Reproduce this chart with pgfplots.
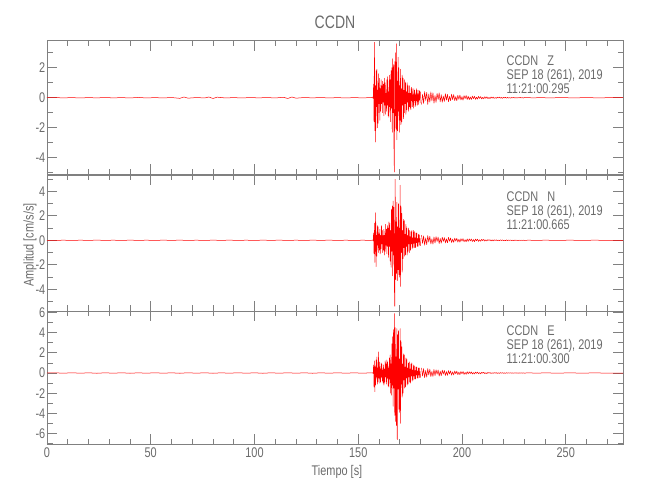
\documentclass[border=0pt]{standalone}
\usepackage{pgfplots}
\pgfplotsset{compat=1.18}
\usepackage{fontspec}
\setmainfont{Liberation Sans}[FakeStretch=0.78]
\definecolor{axgray}{rgb}{0.50,0.50,0.50}
\definecolor{textgray}{rgb}{0.42,0.42,0.42}
\pgfplotsset{
  seis/.style={
    scale only axis, anchor=south west, width=576pt,
    xmin=0, xmax=277.6,
    xtick distance=50, minor x tick num=4,
    ytick distance=2, minor y tick num=1,
    tick align=inside, major tick length=10pt, minor tick length=5.5pt,
    axis line style={axgray, line width=0.8pt},
    every tick/.style={axgray, line width=0.8pt},
    tick label style={font=\fontsize{14}{14}\selectfont, text=textgray},
    /pgf/number format/assume math mode=true,
    yticklabel style={inner xsep=1.5pt},
    xticklabel style={inner ysep=3pt},
  },
  trace/.style={red, line width=0.5pt, line join=round},
}
\begin{document}
\begin{tikzpicture}
\useasboundingbox (0pt,0pt) rectangle (650pt,500pt);

% ---------------- Panel 1 : Z ----------------
\begin{axis}[seis, at={(47pt,325.7pt)}, height=133.6pt, ymin=-5.1, ymax=3.8, xticklabels={}]
\addplot[trace] coordinates {(0,0) (4,0.01) (8,-0.01) (12,0.01) (16,-0.015) (20,0.01) (24,-0.01) (28,0.015) (32,-0.01) (36,0.01) (40,-0.015) (44,0.02) (48,-0.015) (52,0.01) (56,-0.015) (60,0.015) (64,-0.04) (66,0.05) (68,-0.03) (72,0.015) (76,-0.015) (78,0.05) (80,-0.05) (82,0.04) (86,-0.015) (90,0.01) (94,-0.015) (98,0.015) (102,-0.01) (106,0.015) (110,-0.015) (114,0.03) (116,-0.05) (118,0.05) (120,-0.03) (124,0.015) (128,-0.01) (132,0.015) (136,-0.015) (140,0.01) (144,-0.015) (148,0.01) (152,-0.01) (156,0.01) (157,0.02)};
\addplot[trace] table[row sep=\\, header=false, y index=0, x expr=157+0.2*\coordindex] {
0.02\\ -0.05\\ 0.9\\ -1.6\\ 3.7\\ -2.2\\ 0.8\\ -2.95\\ 1.8\\ -0.6\\
1.9\\ -2.0\\ 0.5\\ -1.7\\ 1.6\\ -0.4\\ 1.3\\ -1.5\\ 0.6\\ -0.9\\
1.2\\ -0.4\\ 0.8\\ -1.0\\ 1.1\\ -0.3\\ 0.9\\ -1.2\\ 1.3\\ -0.5\\
1.0\\ -1.1\\ 0.3\\ -0.9\\ 1.2\\ -0.5\\ 1.4\\ -1.2\\ 0.4\\ -1.3\\
1.5\\ -0.6\\ 1.2\\ -1.6\\ 1.8\\ -0.7\\ 2.0\\ -2.3\\ 2.6\\ -1.0\\
2.2\\ -3.1\\ -4.95\\ 2.4\\ -1.2\\ 3.0\\ -2.1\\ 3.6\\ -2.8\\ 1.1\\
-2.2\\ 2.7\\ -0.9\\ 2.0\\ -2.3\\ 0.8\\ -1.5\\ 1.9\\ -1.8\\ 0.6\\
-1.6\\ 1.5\\ -0.5\\ 1.3\\ -1.4\\ 0.5\\ -1.0\\ 1.2\\ -0.4\\ 1.0\\
-1.1\\ 0.4\\ -0.8\\ 1.0\\ -0.3\\ 0.8\\ -0.9\\ 0.3\\ -0.6\\ 0.8\\
-0.7\\ 0.3\\ -0.8\\ 0.7\\ -0.2\\ 0.6\\ -0.6\\ 0.2\\ -0.7\\ 0.6\\
-0.2\\ 0.5\\ -0.6\\ 0.2\\ -0.5\\ 0.6\\ -0.2\\ 0.5\\ -0.5\\ 0.2\\
-0.45\\ 0.5\\ -0.15\\ 0.45\\ -0.35\\ 0.4\\
};
\addplot[trace] table[row sep=\\, header=false, y index=0, x expr=180.5+0.5*\coordindex] {
-0.45\\ 0.22\\ -0.38\\ 0.41\\ -0.18\\ 0.36\\ -0.44\\ 0.25\\ -0.3\\ 0.39\\
-0.21\\ 0.33\\ -0.36\\ 0.14\\ -0.31\\ 0.29\\ -0.12\\ 0.33\\ -0.27\\ 0.2\\
-0.3\\ 0.11\\ -0.25\\ 0.27\\ -0.16\\ 0.22\\ -0.26\\ 0.09\\ -0.2\\ 0.24\\
-0.13\\ 0.21\\ -0.19\\ 0.08\\ -0.2\\ 0.17\\ -0.11\\ 0.18\\ -0.15\\ 0.07\\
-0.16\\ 0.14\\ -0.06\\ 0.15\\ -0.12\\ 0.1\\ -0.13\\ 0.05\\ -0.12\\ 0.11\\
-0.07\\ 0.1\\ -0.11\\ 0.04\\ -0.09\\ 0.09\\ -0.05\\ 0.08\\ -0.08\\ 0.03\\
-0.07\\ 0.07\\ -0.04\\ 0.06\\ -0.06\\ 0.02\\ -0.06\\ 0.05\\ -0.03\\ 0.05\\
-0.05\\ 0.02\\ -0.04\\ 0.04\\ -0.02\\ 0.04\\ -0.03\\ 0.02\\ -0.04\\ 0.03\\
-0.01\\ 0.03\\ -0.03\\ 0.02\\ -0.02\\ 0.01\\ -0.03\\ 0.02\\ -0.01\\ 0.02\\
-0.02\\ 0.01\\ -0.02\\ 0.01\\ -0.01\\ 0.02\\ -0.01\\ 0.01\\ -0.02\\ 0.01\\
};
\addplot[trace] coordinates {(230,0.01) (232,0.01) (234,-0.01) (238,0.01) (242,-0.01) (248,0.01) (254,-0.01) (260,0.01) (266,-0.01) (272,0.01) (277.6,0)};
\end{axis}

% ---------------- Panel 2 : N ----------------
\begin{axis}[seis, at={(47pt,189pt)}, height=136pt, ymin=-5.77, ymax=5.33, xticklabels={}]
\addplot[trace] coordinates {(0,0) (4,-0.01) (8,0.01) (12,-0.015) (16,0.01) (20,-0.01) (24,0.015) (28,-0.01) (32,0.01) (36,-0.015) (40,0.015) (44,-0.01) (48,0.01) (52,-0.015) (56,0.015) (60,-0.01) (64,0.015) (68,-0.015) (72,0.01) (76,-0.015) (80,0.015) (84,-0.01) (88,0.015) (92,-0.015) (96,0.01) (100,-0.015) (104,0.015) (108,-0.01) (112,0.015) (116,-0.015) (120,0.01) (124,-0.015) (128,0.015) (132,-0.01) (136,0.015) (140,-0.015) (144,0.01) (148,-0.015) (152,0.01) (156,-0.01) (157,0.02)};
\addplot[trace] table[row sep=\\, header=false, y index=0, x expr=157+0.2*\coordindex] {
0.02\\ -0.04\\ 0.6\\ -1.1\\ 1.4\\ -1.8\\ 0.5\\ 2.25\\ -2.15\\ 0.4\\
-1.3\\ 1.2\\ -0.4\\ 1.1\\ -1.0\\ 0.5\\ -0.8\\ 0.9\\ -1.1\\ 0.4\\
-0.7\\ 1.2\\ -0.3\\ 0.8\\ -1.0\\ 0.4\\ -0.8\\ 0.9\\ -1.2\\ 0.4\\
-0.9\\ 1.3\\ -0.4\\ 0.9\\ -1.1\\ 1.2\\ -0.5\\ 1.0\\ -1.4\\ 1.5\\
-0.5\\ 1.4\\ -1.7\\ 0.8\\ -2.2\\ 2.5\\ -0.9\\ 2.8\\ -2.9\\ 3.2\\
-1.2\\ 2.7\\ -3.6\\ -5.4\\ 4.98\\ -3.2\\ 1.5\\ -2.7\\ 3.1\\ -3.3\\
1.1\\ -2.4\\ 3.0\\ -2.8\\ 1.0\\ -3.0\\ 4.5\\ -3.77\\ 2.8\\ -1.0\\
2.2\\ -2.6\\ 0.8\\ -1.5\\ 1.7\\ -0.6\\ 1.6\\ -1.3\\ 0.5\\ -1.2\\
1.3\\ -0.5\\ 1.0\\ -1.2\\ 0.4\\ -0.9\\ 1.0\\ -0.3\\ 0.8\\ -1.0\\
0.3\\ -0.8\\ 0.7\\ -0.3\\ 0.8\\ -0.7\\ 0.2\\ -0.6\\ 0.8\\ -0.25\\
0.7\\ -0.6\\ 0.2\\ -0.6\\ 0.6\\ -0.2\\ 0.6\\ -0.5\\ 0.15\\ -0.5\\
0.5\\ -0.15\\ 0.45\\ -0.4\\ 0.15\\ -0.45\\
};
\addplot[trace] table[row sep=\\, header=false, y index=0, x expr=180.5+0.5*\coordindex] {
0.42\\ -0.25\\ 0.36\\ -0.4\\ 0.2\\ -0.35\\ 0.38\\ -0.15\\ 0.33\\ -0.3\\
0.12\\ -0.31\\ 0.27\\ -0.22\\ 0.3\\ -0.1\\ 0.26\\ -0.27\\ 0.15\\ -0.24\\
0.25\\ -0.09\\ 0.22\\ -0.21\\ 0.12\\ -0.2\\ 0.23\\ -0.08\\ 0.19\\ -0.18\\
0.1\\ -0.17\\ 0.18\\ -0.07\\ 0.16\\ -0.15\\ 0.09\\ -0.15\\ 0.13\\ -0.06\\
0.13\\ -0.12\\ 0.05\\ -0.12\\ 0.11\\ -0.09\\ 0.12\\ -0.05\\ 0.11\\ -0.1\\
0.06\\ -0.11\\ 0.1\\ -0.04\\ 0.09\\ -0.09\\ 0.05\\ -0.08\\ 0.08\\ -0.03\\
0.07\\ -0.06\\ 0.03\\ -0.06\\ 0.06\\ -0.02\\ 0.05\\ -0.05\\ 0.03\\ -0.05\\
0.04\\ -0.02\\ 0.04\\ -0.04\\ 0.02\\ -0.03\\ 0.04\\ -0.02\\ 0.03\\ -0.03\\
0.01\\ -0.03\\ 0.03\\ -0.02\\ 0.02\\ -0.01\\ 0.02\\ -0.02\\ 0.01\\ -0.02\\
0.02\\ -0.01\\ 0.01\\ -0.02\\ 0.01\\ -0.01\\ 0.01\\ -0.01\\ 0.01\\ -0.01\\
};
\addplot[trace] coordinates {(230,-0.01) (232,0.01) (236,-0.01) (240,0.01) (246,-0.01) (252,0.01) (258,-0.01) (264,0.01) (270,-0.01) (277.6,0)};
\end{axis}

% ---------------- Panel 3 : E ----------------
\begin{axis}[seis, at={(47pt,55.7pt)}, height=133.3pt, ymin=-7.07, ymax=6.15]
\addplot[trace] coordinates {(0,0) (4,0.02) (8,-0.02) (12,0.025) (16,-0.02) (20,0.02) (24,-0.025) (28,0.02) (32,-0.02) (36,0.025) (40,-0.025) (44,0.02) (48,-0.02) (52,0.025) (56,-0.02) (60,0.02) (64,-0.025) (68,0.025) (72,-0.02) (76,0.025) (80,-0.025) (84,0.02) (88,-0.02) (92,0.025) (96,-0.02) (100,0.02) (104,-0.025) (108,0.02) (112,-0.02) (116,0.025) (120,-0.02) (124,0.02) (128,-0.025) (132,0.02) (136,-0.02) (140,0.025) (144,-0.02) (148,0.02) (152,-0.02) (156,0.02) (157,0.02)};
\addplot[trace] table[row sep=\\, header=false, y index=0, x expr=157+0.2*\coordindex] {
0.02\\ -0.05\\ 0.8\\ -1.4\\ 1.2\\ -1.85\\ 0.6\\ -1.2\\ 1.3\\ -0.4\\
1.6\\ -1.1\\ 0.5\\ -0.9\\ 2.1\\ -0.5\\ 1.1\\ -1.0\\ 0.4\\ -0.9\\
1.0\\ -0.4\\ 0.9\\ -0.8\\ 0.3\\ -1.0\\ 0.8\\ -1.2\\ 0.4\\ -0.9\\
1.2\\ -0.4\\ 0.9\\ -1.1\\ 1.3\\ -0.5\\ 1.1\\ -1.3\\ 0.5\\ -1.4\\
1.5\\ -0.6\\ 1.8\\ -2.0\\ 0.9\\ -2.2\\ 2.9\\ -1.2\\ 3.6\\ -3.3\\
4.3\\ -1.5\\ 5.9\\ -4.2\\ 4.5\\ -4.8\\ 1.6\\ -5.2\\ 4.4\\ -6.6\\
3.8\\ -1.6\\ 4.2\\ -3.6\\ 1.4\\ -3.9\\ 4.4\\ -5.0\\ 3.2\\ -1.1\\
2.6\\ -2.4\\ 0.9\\ -2.0\\ 1.9\\ -0.7\\ 1.8\\ -1.5\\ 0.6\\ -1.4\\
1.5\\ -0.5\\ 1.4\\ -1.2\\ 0.5\\ -1.1\\ 1.0\\ -0.4\\ 1.1\\ -0.9\\
0.4\\ -1.0\\ 0.9\\ -0.3\\ 1.0\\ -0.8\\ 0.3\\ -0.7\\ 0.8\\ -0.3\\
0.7\\ -0.6\\ 0.25\\ -0.6\\ 0.6\\ -0.2\\ 0.6\\ -0.5\\ 0.2\\ -0.5\\
0.5\\ -0.2\\ 0.5\\ -0.45\\ 0.15\\ -0.45\\
};
\addplot[trace] table[row sep=\\, header=false, y index=0, x expr=180.5+0.5*\coordindex] {
0.5\\ -0.3\\ 0.44\\ -0.47\\ 0.25\\ -0.4\\ 0.43\\ -0.2\\ 0.38\\ -0.36\\
0.16\\ -0.34\\ 0.35\\ -0.25\\ 0.32\\ -0.13\\ 0.3\\ -0.31\\ 0.18\\ -0.27\\
0.28\\ -0.11\\ 0.26\\ -0.25\\ 0.14\\ -0.23\\ 0.24\\ -0.1\\ 0.21\\ -0.21\\
0.12\\ -0.19\\ 0.2\\ -0.08\\ 0.18\\ -0.17\\ 0.1\\ -0.16\\ 0.15\\ -0.07\\
0.15\\ -0.14\\ 0.06\\ -0.13\\ 0.13\\ -0.09\\ 0.12\\ -0.05\\ 0.11\\ -0.1\\
0.05\\ -0.1\\ 0.09\\ -0.04\\ 0.09\\ -0.08\\ 0.04\\ -0.08\\ 0.07\\ -0.03\\
0.07\\ -0.06\\ 0.03\\ -0.06\\ 0.06\\ -0.02\\ 0.05\\ -0.05\\ 0.03\\ -0.04\\
0.04\\ -0.02\\ 0.04\\ -0.04\\ 0.02\\ -0.03\\ 0.03\\ -0.02\\ 0.03\\ -0.03\\
0.01\\ -0.03\\ 0.03\\ -0.02\\ 0.02\\ -0.01\\ 0.02\\ -0.02\\ 0.01\\ -0.02\\
0.02\\ -0.01\\ 0.01\\ -0.02\\ 0.01\\ -0.01\\ 0.01\\ -0.01\\ 0.01\\ -0.01\\
};
\addplot[trace] coordinates {(230,-0.01) (232,0.02) (236,-0.02) (240,0.02) (246,-0.02) (252,0.02) (258,-0.02) (264,0.02) (270,-0.02) (277.6,0)};
\end{axis}

% ---------------- Texts ----------------
\node[text=textgray, font=\fontsize{18}{18}\selectfont] at (335pt,478pt) {CCDN};
\node[text=textgray, font=\fontsize{14}{14}\selectfont, rotate=90] at (30pt,255pt) {Amplitud [cm/s/s]};
\node[text=textgray, font=\fontsize{14}{14}\selectfont] at (337pt,28pt) {Tiempo [s]};

\node[text=textgray, font=\fontsize{14}{14}\selectfont, anchor=north west, align=left, inner sep=0pt] at (506.5pt,444pt) {CCDN\ \ \ Z\\SEP 18 (261), 2019\\11:21:00.295};
\node[text=textgray, font=\fontsize{14}{14}\selectfont, anchor=north west, align=left, inner sep=0pt] at (506.5pt,308.3pt) {CCDN\ \ \ N\\SEP 18 (261), 2019\\11:21:00.665};
\node[text=textgray, font=\fontsize{14}{14}\selectfont, anchor=north west, align=left, inner sep=0pt] at (506.5pt,174pt) {CCDN\ \ \ E\\SEP 18 (261), 2019\\11:21:00.300};
\end{tikzpicture}
\end{document}
